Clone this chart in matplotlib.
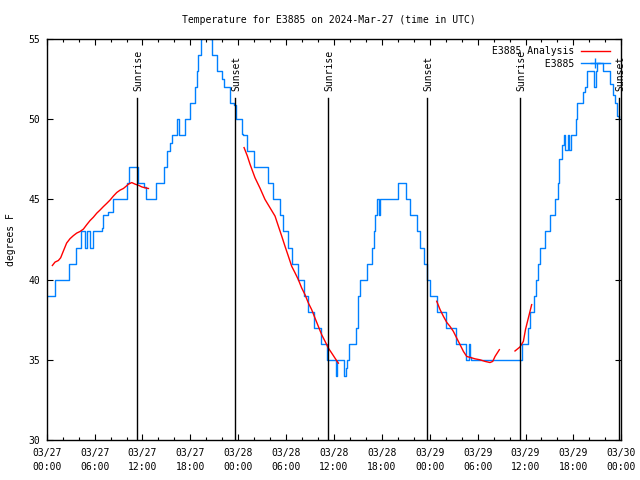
import matplotlib
matplotlib.use("Agg")
import matplotlib.pyplot as plt
from matplotlib.lines import Line2D
from matplotlib.ticker import MultipleLocator, FixedLocator

plt.rcParams['font.family'] = ['DejaVu Sans Mono']

# hours since 2024-03-27 00:00 UTC
obs_hours = [0.2, 1.04, 2.75, 3.67, 4.3, 4.8, 5.1, 5.4, 5.75, 6.9, 7.1, 7.7, 8.25,
             10.0, 10.3, 11.45, 12.23, 12.44, 13.65, 14.7, 15.04, 15.4, 15.66, 16.37,
             16.54, 17.33, 17.96, 18.58, 18.8, 19.0, 19.3, 19.4, 19.8, 20.2, 20.46,
             20.68, 21.3, 21.93, 22.26, 22.97, 23.47, 23.72, 24.43, 24.64, 25.14,
             25.98, 27.78, 28.4, 29.24, 29.65, 30.28, 30.7, 31.53, 32.24, 32.79,
             33.5, 34.33, 35.09, 36.25, 36.4, 37.26, 37.5, 37.67, 37.92, 38.76,
             39.05, 39.26, 40.18, 40.75, 40.95, 41.15, 41.4, 41.6, 41.75, 44.0,
             44.98, 45.5, 46.45, 46.8, 47.3, 47.6, 48.03, 48.9, 50.0, 51.25, 52.5,
             52.9, 53.0, 53.15, 59.6, 60.35, 60.5, 61.0, 61.25, 61.5, 61.8, 62.4,
             63.07, 63.7, 64.1, 64.24, 64.53, 64.85, 65.0, 65.3, 65.4, 65.66, 66.32,
             66.5, 67.24, 67.46, 67.75, 68.59, 68.83, 69.0, 69.7, 70.55, 70.9, 71.2,
             71.45, 71.72]
obs_temp = [39, 40, 41, 42, 43, 42, 43, 42, 43, 43.2, 44, 44.2, 45,
            46, 47, 46, 45.75, 45, 46, 47, 48, 48.5, 49, 50,
            49, 50, 51, 52, 53, 54, 55, 56, 57, 56, 55,
            54, 53, 52.5, 52, 51, 50.9, 50, 49.1, 49, 48,
            47, 46, 45, 44, 43, 42, 41, 40, 39, 38,
            37, 36, 35, 34, 35, 34, 34.5, 35, 36, 37,
            39, 40, 41, 42, 43, 44, 45, 44, 45, 46,
            45, 44, 43, 42, 41, 40, 39, 38, 37, 36, 35,
            36, 35.2, 35, 36, 37, 38, 39, 40, 41, 42, 43,
            44, 45, 46, 47.5, 48.4, 49, 48.1, 49, 48.1, 49, 50,
            51, 51.7, 52, 53, 52, 53, 53.5, 53, 52.2, 51.5, 51,
            50.2, 50]

ana1_hours = [0.71, 1.04, 1.46, 1.75, 2.08, 2.5, 2.92, 3.34, 3.76, 4.18, 4.6, 5.01,
              5.43, 5.85, 6.27, 6.69, 7.1, 7.52, 7.94, 8.36, 8.78, 9.2, 9.61, 9.95,
              10.24, 10.66, 11.08, 11.5, 11.91, 12.33, 12.75]
ana1_temp = [40.88, 41.09, 41.19, 41.36, 41.77, 42.28, 42.55, 42.74, 42.9, 43.0, 43.15,
             43.42, 43.68, 43.89, 44.14, 44.34, 44.55, 44.75, 44.96, 45.21, 45.43, 45.58,
             45.68, 45.82, 45.95, 46.05, 45.95, 45.88, 45.78, 45.72, 45.68]
ana2_hours = [24.73, 25.14, 25.48, 26.1, 26.73, 27.35, 27.98, 28.61, 29.03, 29.45, 29.86,
              30.28, 30.7, 31.12, 31.53, 31.95, 32.37, 32.79, 33.2, 33.62, 34.04, 34.46,
              34.88, 35.29, 35.71, 36.13, 36.55]
ana2_temp = [48.23, 47.71, 47.19, 46.35, 45.7, 45.0, 44.48, 43.96, 43.33, 42.71, 42.08,
             41.46, 40.83, 40.42, 40.0, 39.48, 39.06, 38.54, 38.13, 37.6, 37.08, 36.56,
             36.15, 35.73, 35.42, 35.1, 34.79]
ana3_hours = [48.87, 49.29, 49.71, 50.13, 50.54, 50.96, 51.38, 51.8, 52.22, 52.63, 53.05,
              53.68, 54.3, 54.93, 55.55, 55.89, 56.18, 56.72]
ana3_temp = [38.65, 38.13, 37.71, 37.33, 37.08, 36.77, 36.35, 35.94, 35.52, 35.21, 35.15,
             35.06, 35.0, 34.9, 34.83, 34.9, 35.21, 35.63]
ana4_hours = [58.68, 59.3, 59.73, 60.0, 60.15, 60.5, 60.77]
ana4_temp = [35.55, 35.8, 36.15, 36.9, 37.2, 37.9, 38.44]

sun_hours = [11.36, 23.64, 35.29, 47.7, 59.35, 71.76]
sun_labels = ['Sunrise', 'Sunset', 'Sunrise', 'Sunset', 'Sunrise', 'Sunset']

xtick_hours = [0, 6, 12, 18, 24, 30, 36, 42, 48, 54, 60, 66, 72]
xtick_labels = ['03/27\n00:00', '03/27\n06:00', '03/27\n12:00', '03/27\n18:00',
                '03/28\n00:00', '03/28\n06:00', '03/28\n12:00', '03/28\n18:00',
                '03/29\n00:00', '03/29\n06:00', '03/29\n12:00', '03/29\n18:00',
                '03/30\n00:00']
yticks = [30, 35, 40, 45, 50, 55]

BLUE = '#0080ff'
RED = '#ff0000'
FS = 7

fig = plt.figure(figsize=(6.4, 4.8), dpi=100)
ax = fig.add_axes([46.7 / 640, 40 / 480, 574.6 / 640, 401 / 480])

ax.plot(obs_hours, obs_temp, drawstyle='steps-post', color=BLUE, lw=1.0)
for th, tv in [(ana1_hours, ana1_temp), (ana2_hours, ana2_temp),
               (ana3_hours, ana3_temp), (ana4_hours, ana4_temp)]:
    ax.plot(th, tv, color=RED, lw=1.0)

for h, lab in zip(sun_hours, sun_labels):
    ax.plot([h, h], [30, 51.3], color='black', lw=1.0)
    ax.text(h + 0.12, 51.75, lab, rotation=90, ha='center', va='bottom', fontsize=FS)

ax.set_xlim(0, 72)
ax.set_ylim(30, 55)
ax.xaxis.set_major_locator(FixedLocator(xtick_hours))
ax.set_xticklabels(xtick_labels)
for lbl in ax.get_xticklabels():
    lbl.set_linespacing(1.5)
ax.xaxis.set_minor_locator(MultipleLocator(2))
ax.set_yticks(yticks)
ax.set_yticklabels([str(v) for v in yticks])
ax.tick_params(which='both', direction='in', top=True, right=True, labelsize=FS, width=0.8)
ax.tick_params(which='major', length=4)
ax.tick_params(which='minor', length=2.5)
ax.tick_params(axis='x', which='major', pad=5.5)
ax.tick_params(axis='y', which='major', pad=5)
for s in ax.spines.values():
    s.set_linewidth(1.0)

handles = [Line2D([], [], color=RED, lw=1.0),
           Line2D([], [], color=BLUE, lw=1.0, marker='+', markersize=7)]
ax.legend(handles, ['E3885 Analysis', '         E3885'], loc='upper right',
          bbox_to_anchor=(0.980, 0.982), frameon=False, fontsize=FS,
          markerfirst=False, handlelength=3.0, handletextpad=0.7,
          labelspacing=0.25, borderpad=0, borderaxespad=0)

fig.text(329 / 640, 1 - 20 / 480, 'Temperature for E3885 on 2024-Mar-27 (time in UTC)',
         ha='center', va='center', fontsize=FS)
fig.text(11 / 640, 1 - 240 / 480, 'degrees F', rotation=90, ha='center', va='center',
         fontsize=FS)

fig.savefig('out.png', dpi=100)
